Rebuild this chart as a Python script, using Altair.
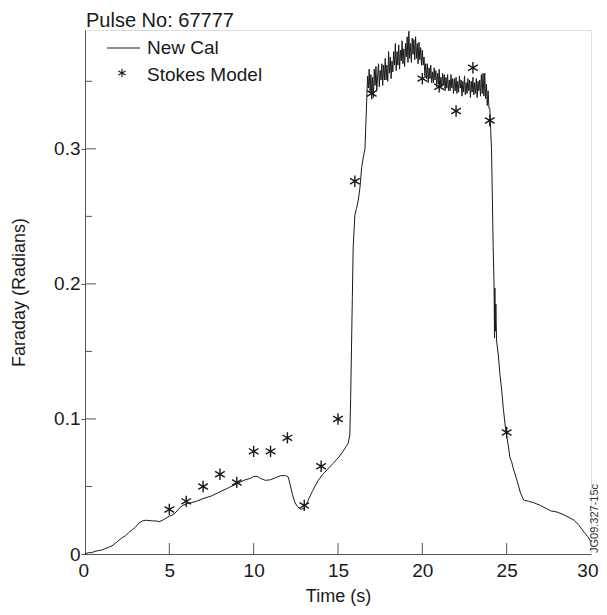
import altair as alt
import pandas as pd

# ---- data ----
# rise phase (0 - 16.65 s)
rise_time = [
    0.0, 0.2, 0.4, 0.6, 0.8, 1.0, 1.2, 1.4, 1.6, 1.8, 2.0, 2.2, 2.4, 2.6, 2.8, 3.0,
    3.2, 3.4, 3.6, 3.8, 4.0, 4.2, 4.4, 4.6, 4.8, 5.0, 5.2, 5.4, 5.6, 5.8, 6.0, 6.3,
    6.6, 7.0, 7.5, 8.0, 8.5, 9.0, 9.5, 9.8, 10.0, 10.2, 10.4, 10.7, 11.0, 11.3, 11.6,
    11.9, 12.05, 12.15, 12.3, 12.45, 12.6, 12.8, 13.0, 13.2, 13.5, 13.8, 14.1, 14.4,
    14.7, 15.0, 15.3, 15.6, 15.7, 15.75, 15.8, 15.85, 15.9, 16.0, 16.1, 16.2, 16.3,
    16.4, 16.5, 16.6, 16.65,
]
rise_value = [
    0.000, 0.001, 0.001, 0.002, 0.0025, 0.003, 0.004, 0.005, 0.006, 0.008, 0.010,
    0.012, 0.0135, 0.016, 0.018, 0.020, 0.023, 0.0245, 0.025, 0.0248, 0.0245, 0.0245,
    0.024, 0.025, 0.0265, 0.028, 0.029, 0.031, 0.034, 0.036, 0.037, 0.038, 0.039,
    0.041, 0.043, 0.046, 0.049, 0.052, 0.055, 0.056, 0.0575, 0.0575, 0.056, 0.0545,
    0.055, 0.0565, 0.058, 0.058, 0.057, 0.052, 0.044, 0.038, 0.035, 0.033, 0.034,
    0.039, 0.047, 0.054, 0.059, 0.063, 0.067, 0.071, 0.076, 0.082, 0.088, 0.115,
    0.152, 0.190, 0.227, 0.251, 0.256, 0.262, 0.271, 0.286, 0.294, 0.300, 0.318,
]
# flat-top phase, noisy (16.70 - 24.00 s)
top_time = [
    16.70, 16.75, 16.80, 16.85, 16.90, 16.95, 17.00, 17.05, 17.10, 17.15, 17.20, 17.25,
    17.30, 17.35, 17.40, 17.45, 17.50, 17.55, 17.60, 17.65, 17.70, 17.75, 17.80, 17.85,
    17.90, 17.95, 18.00, 18.05, 18.10, 18.15, 18.20, 18.25, 18.30, 18.35, 18.40, 18.45,
    18.50, 18.55, 18.60, 18.65, 18.70, 18.75, 18.80, 18.85, 18.90, 18.95, 19.00, 19.05,
    19.10, 19.15, 19.20, 19.25, 19.30, 19.35, 19.40, 19.45, 19.50, 19.55, 19.60, 19.65,
    19.70, 19.75, 19.80, 19.85, 19.90, 19.95, 20.00, 20.05, 20.10, 20.15, 20.20, 20.25,
    20.30, 20.35, 20.40, 20.45, 20.50, 20.55, 20.60, 20.65, 20.70, 20.75, 20.80, 20.85,
    20.90, 20.95, 21.00, 21.05, 21.10, 21.15, 21.20, 21.25, 21.30, 21.35, 21.40, 21.45,
    21.50, 21.55, 21.60, 21.65, 21.70, 21.75, 21.80, 21.85, 21.90, 21.95, 22.00, 22.05,
    22.10, 22.15, 22.20, 22.25, 22.30, 22.35, 22.40, 22.45, 22.50, 22.55, 22.60, 22.65,
    22.70, 22.75, 22.80, 22.85, 22.90, 22.95, 23.00, 23.05, 23.10, 23.15, 23.20, 23.25,
    23.30, 23.35, 23.40, 23.45, 23.50, 23.55, 23.60, 23.65, 23.70, 23.75, 23.80, 23.85,
    23.90, 23.95, 24.00,
]
top_value = [
    0.335, 0.354, 0.345, 0.359, 0.342, 0.355, 0.340, 0.353, 0.338, 0.359, 0.347, 0.361,
    0.343, 0.354, 0.363, 0.346, 0.358, 0.351, 0.363, 0.347, 0.362, 0.351, 0.367, 0.351,
    0.362, 0.350, 0.372, 0.356, 0.368, 0.352, 0.365, 0.357, 0.372, 0.362, 0.378, 0.358,
    0.372, 0.362, 0.377, 0.359, 0.373, 0.365, 0.380, 0.363, 0.374, 0.361, 0.378, 0.368,
    0.383, 0.364, 0.387, 0.367, 0.378, 0.364, 0.382, 0.370, 0.381, 0.366, 0.383, 0.367,
    0.378, 0.363, 0.379, 0.366, 0.375, 0.362, 0.373, 0.362, 0.368, 0.354, 0.363, 0.352,
    0.363, 0.349, 0.360, 0.352, 0.362, 0.349, 0.357, 0.349, 0.360, 0.351, 0.358, 0.346,
    0.356, 0.348, 0.359, 0.345, 0.353, 0.346, 0.356, 0.347, 0.355, 0.343, 0.353, 0.345,
    0.355, 0.343, 0.351, 0.343, 0.355, 0.345, 0.352, 0.341, 0.352, 0.343, 0.353, 0.341,
    0.350, 0.342, 0.354, 0.345, 0.351, 0.339, 0.350, 0.342, 0.354, 0.340, 0.349, 0.341,
    0.352, 0.343, 0.351, 0.338, 0.350, 0.342, 0.353, 0.340, 0.349, 0.341, 0.352, 0.338,
    0.350, 0.343, 0.351, 0.339, 0.355, 0.341, 0.356, 0.339, 0.356, 0.337, 0.348, 0.332,
    0.343, 0.330, 0.330,
]
# ramp-down phase (24.05 - 30 s)
fall_time = [
    24.05, 24.1, 24.15, 24.2, 24.25, 24.28, 24.3, 24.33, 24.36, 24.4, 24.5, 24.6,
    24.7, 24.8, 24.95, 25.1, 25.2, 25.3, 25.4, 25.6, 25.8, 26.0, 26.3, 26.6, 27.0,
    27.3, 27.6, 28.0, 28.4, 28.7, 29.0, 29.3, 29.6, 29.8, 30.0,
]
fall_value = [
    0.315, 0.300, 0.265, 0.227, 0.200, 0.160, 0.197, 0.165, 0.185, 0.158, 0.148,
    0.133, 0.122, 0.108, 0.091, 0.080, 0.071, 0.068, 0.063, 0.055, 0.046, 0.040,
    0.039, 0.038, 0.036, 0.034, 0.032, 0.031, 0.029, 0.027, 0.025, 0.021, 0.016,
    0.013, 0.009,
]

stokes_time = [5, 6, 7, 8, 9, 10, 11, 12, 13, 14, 15, 16, 17, 20, 21, 22, 23, 24, 25]
stokes_value = [0.033, 0.039, 0.050, 0.059, 0.053, 0.076, 0.076, 0.086, 0.036, 0.065,
                0.100, 0.276, 0.341, 0.352, 0.346, 0.328, 0.360, 0.321, 0.090]

x_ticks = [5, 10, 15, 20, 25]
x_labels = [0, 5, 10, 15, 20, 25, 30]
y_major = [0.1, 0.2, 0.3]
y_minor = [0.05, 0.15, 0.25, 0.35]
y_labels = [0, 0.1, 0.2, 0.3]
legend_labels = ["New Cal", "Stokes Model"]
title_text = ["Pulse No: 67777"]
note_text = ["JG09.327-15c"]

# ---- chart ----
W, H = 506, 524
FONT = "Liberation Sans"
INK = "#1a1a1a"
ASTERISK = "M0,-1L0,1M-0.85,-0.5L0.85,0.5M-0.85,0.5L0.85,-0.5"

xscale = alt.Scale(domain=[0, 30], nice=False, zero=False)
yscale = alt.Scale(domain=[0, 0.388], nice=False)

cal_df = pd.DataFrame({"t": rise_time + top_time + fall_time,
                       "v": rise_value + top_value + fall_value})
stokes_df = pd.DataFrame({"t": stokes_time, "v": stokes_value})

line = alt.Chart(cal_df).mark_line(color=INK, strokeWidth=1).encode(
    x=alt.X("t:Q", scale=xscale, title="Time (s)",
            axis=alt.Axis(values=x_labels, tickSize=0, labelPadding=7, grid=False,
                          labelFontSize=19, titleFontSize=18, labelFont=FONT,
                          titleFont=FONT, labelColor=INK, titleColor=INK,
                          titleFontWeight="normal", domainColor="#555",
                          titleX=W / 2, titleY=42, titleBaseline="middle",
                          labelFlush=True, labelFlushOffset=7)),
    y=alt.Y("v:Q", scale=yscale, title="Faraday (Radians)",
            axis=alt.Axis(values=y_labels, tickSize=4, tickColor="#555",
                          labelPadding=1, grid=False,
                          labelExpr="datum.value == 0 ? '0' : format(datum.value, '.1f')",
                          labelFontSize=19, titleFontSize=18, labelFont=FONT,
                          titleFont=FONT, labelColor=INK, titleColor=INK,
                          titleFontWeight="normal", domainColor="#555",
                          titleX=-66, titleY=H / 2, titleBaseline="middle",
                          labelFlush=False)),
)

points = alt.Chart(stokes_df).mark_point(
    shape=ASTERISK, filled=False, color=INK, strokeWidth=1.4, size=130, opacity=1
).encode(x=alt.X("t:Q", scale=xscale), y=alt.Y("v:Q", scale=yscale))

xt = alt.Chart(pd.DataFrame({"t": x_ticks})).mark_rule(color="#555", strokeWidth=1).encode(
    x=alt.X("t:Q", scale=xscale), y=alt.value(H), y2=alt.value(H - 11))

ytmaj = alt.Chart(pd.DataFrame({"v": y_major})).mark_rule(color="#555", strokeWidth=1).encode(
    y=alt.Y("v:Q", scale=yscale), x=alt.value(0), x2=alt.value(11))

ytmin = alt.Chart(pd.DataFrame({"v": y_minor})).mark_rule(color="#555", strokeWidth=1).encode(
    y=alt.Y("v:Q", scale=yscale), x=alt.value(0), x2=alt.value(7))

one = pd.DataFrame({"k": [0]})
leg_line = alt.Chart(one).mark_rule(color=INK, strokeWidth=1).encode(
    x=alt.value(22), x2=alt.value(55), y=alt.value(18))
leg_sym = alt.Chart(one).mark_point(
    shape=ASTERISK, filled=False, color=INK, strokeWidth=1.1, size=70, opacity=1
).encode(x=alt.value(37), y=alt.value(43))

leg_text = alt.Chart(pd.DataFrame({"label": legend_labels, "yy": [18, 45]})).mark_text(
    align="left", baseline="middle", font=FONT, fontSize=19, color=INK
).encode(x=alt.value(62), y=alt.Y("yy:Q", scale=None), text="label:N")

title = alt.Chart(pd.DataFrame({"label": title_text})).mark_text(
    align="left", baseline="alphabetic", font=FONT, fontSize=20, color=INK
).encode(x=alt.value(1), y=alt.value(-3), text="label:N")

note = alt.Chart(pd.DataFrame({"label": note_text})).mark_text(
    align="left", baseline="middle", angle=270, font=FONT, fontSize=11, color="#333"
).encode(x=alt.value(W + 4), y=alt.value(H - 1), text="label:N")

chart = alt.layer(line, points, xt, ytmaj, ytmin, leg_line, leg_sym, leg_text,
                  title, note).properties(
    width=W, height=H,
    padding={"left": 77, "top": 22, "right": 8, "bottom": 53},
    autosize=alt.AutoSizeParams(type="none"),
).configure_view(stroke="#666", strokeWidth=1.2).configure(background="white")

chart.save("out.html", embed_options={"renderer": "svg", "actions": False})
